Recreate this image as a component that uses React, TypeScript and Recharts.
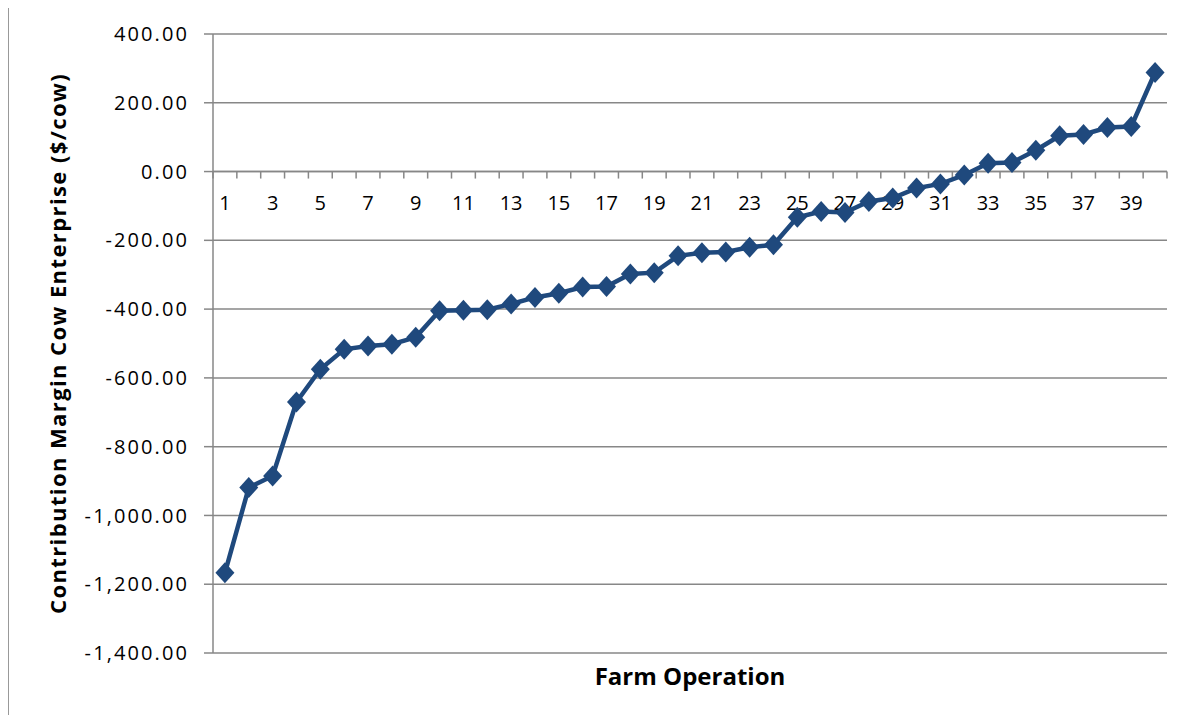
import React from 'react';
import { LineChart, Line, XAxis, YAxis, CartesianGrid, ReferenceLine } from 'recharts';

// farm operations, ranked from lowest to highest contribution margin
const farms = [
  1, 2, 3, 4, 5, 6, 7, 8, 9, 10, 11, 12, 13, 14, 15, 16, 17, 18, 19, 20,
  21, 22, 23, 24, 25, 26, 27, 28, 29, 30, 31, 32, 33, 34, 35, 36, 37, 38, 39, 40
];

// contribution margin cow enterprise ($/cow)
const margins = [
  -1167, -919, -885, -670, -575, -517, -507, -502, -482, -405,
  -403, -402, -385, -366, -354, -336, -334, -298, -294, -245,
  -236, -234, -220, -213, -133, -116, -119, -87, -77, -48,
  -36, -10, 24, 26, 62, 104, 108, 128, 131, 288
];

const yTicks = [400, 200, 0, -200, -400, -600, -800, -1000, -1200, -1400];

const data = farms.map((f, i) => ({ farm: f, value: margins[i] }));

const LINE = '#1F497D';
const AXIS = '#878787';
const FONT = '"Open Sans", sans-serif';

const fmt = (v: number) =>
  v.toLocaleString('en-US', { minimumFractionDigits: 2, maximumFractionDigits: 2 });

// diamond marker
const Diamond = (props: any) => {
  const { cx, cy } = props;
  if (cx == null || cy == null) return null;
  const r = 10.5;
  return (
    <polygon
      points={`${cx},${cy - r} ${cx + r - 1},${cy} ${cx},${cy + r} ${cx - r + 1},${cy}`}
      fill={LINE}
      stroke="none"
    />
  );
};

// category axis drawn on the zero line, ticks between categories
const ZeroAxis = (props: any) => {
  const { x1, y1, x2 } = props;
  const step = (x2 - x1) / farms.length;
  const bounds = [0, ...farms];
  return (
    <g>
      <line x1={x1} y1={y1} x2={x2} y2={y1} stroke={AXIS} strokeWidth={1.5} />
      {bounds.map((_, k) => (
        <line
          key={'t' + k}
          x1={x1 + k * step}
          x2={x1 + k * step}
          y1={y1}
          y2={y1 + 7}
          stroke={AXIS}
          strokeWidth={1.5}
        />
      ))}
      {farms.map((f, k) =>
        f % 2 === 1 ? (
          <text
            key={'l' + k}
            x={x1 + (k + 0.5) * step}
            y={y1 + 38}
            textAnchor="middle"
            fontSize={20}
            fontFamily={FONT}
            fill="#000"
          >
            {f}
          </text>
        ) : null
      )}
    </g>
  );
};

export default function App() {
  return (
    <div style={{ position: 'relative', margin: -8, width: 1188, height: 723, overflow: 'hidden', background: '#fff', fontFamily: FONT }}>
      <div
        style={{
          position: 'absolute',
          left: 7,
          top: 4,
          width: 1200,
          height: 740,
          borderTop: '2px solid #999',
          borderLeft: '2px solid #999',
        }}
      />
      <div style={{ position: 'absolute', left: 0, top: 0 }}>
        <LineChart width={1188} height={723} data={data} margin={{ top: 34, right: 21, bottom: 0, left: 8 }}>
          <CartesianGrid horizontal vertical={false} stroke={AXIS} strokeWidth={1.5} />
          <XAxis
            dataKey="farm"
            scale="band"
            axisLine={false}
            tickLine={false}
            tick={false}
            height={70}
            label={{
              value: 'Farm Operation',
              position: 'insideTop',
              offset: 15,
              style: { fontFamily: FONT, fontWeight: 700, fontSize: 24, fill: '#000' },
            }}
          />
          <YAxis
            type="number"
            domain={[-1400, 400]}
            ticks={yTicks}
            interval={0}
            width={205}
            tickFormatter={fmt}
            axisLine={{ stroke: AXIS, strokeWidth: 1.5 }}
            tickLine={{ stroke: AXIS, strokeWidth: 1.5 }}
            tickSize={9}
            tickMargin={15}
            tick={{ fill: '#000', fontSize: 20, fontFamily: FONT, letterSpacing: 2.1 }}
            label={{
              value: 'Contribution Margin Cow Enterprise ($/cow)',
              angle: -90,
              position: 'insideLeft',
              offset: 50,
              style: { textAnchor: 'middle', fontFamily: FONT, fontWeight: 700, fontSize: 22, letterSpacing: 1.4, fill: '#000' },
            }}
          />
          <ReferenceLine y={0} shape={<ZeroAxis />} />
          <Line
            type="linear"
            dataKey="value"
            stroke={LINE}
            strokeWidth={4.5}
            dot={<Diamond />}
            activeDot={false}
            isAnimationActive={false}
          />
        </LineChart>
      </div>
    </div>
  );
}
